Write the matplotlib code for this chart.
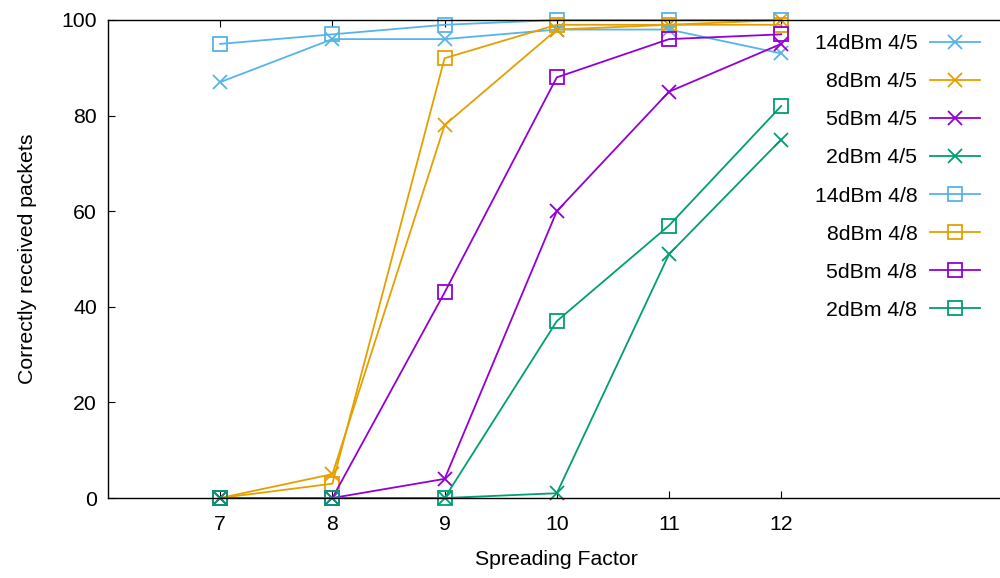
import matplotlib
matplotlib.use("Agg")
import matplotlib.pyplot as plt

plt.rcParams['font.family'] = ['Liberation Sans', 'DejaVu Sans']

spreading_factor = [7, 8, 9, 10, 11, 12]

series_labels = ["14dBm 4/5", "8dBm 4/5", "5dBm 4/5", "2dBm 4/5",
                 "14dBm 4/8", "8dBm 4/8", "5dBm 4/8", "2dBm 4/8"]

cr45_14dbm = [87, 96, 96, 98, 98, 93]
cr45_8dbm = [0, 5, 78, 98, 99, 100]
cr45_5dbm = [0, 0, 4, 60, 85, 95]
cr45_2dbm = [0, 0, 0, 1, 51, 75]
cr48_14dbm = [95, 97, 99, 100, 100, 100]
cr48_8dbm = [0, 3, 92, 99, 99, 99]
cr48_5dbm = [0, 0, 43, 88, 96, 97]
cr48_2dbm = [0, 0, 0, 37, 57, 82]

series_values = [cr45_14dbm, cr45_8dbm, cr45_5dbm, cr45_2dbm,
                 cr48_14dbm, cr48_8dbm, cr48_5dbm, cr48_2dbm]

colors = ["#56b4e9", "#e69f00", "#9400d3", "#009e73"] * 2
markers = ["x"] * 4 + ["s"] * 4

FS = 15.3

fig = plt.figure(figsize=(10, 5.78), dpi=100)
ax = fig.add_axes([0.108, 0.1384, 0.8976, 0.827])

for label, vals, c, m in zip(series_labels, series_values, colors, markers):
    ax.plot(spreading_factor, vals, color=c, marker=m, markersize=10.5 if m == "x" else 9.5,
            markeredgewidth=1.3, fillstyle="none", linewidth=1.3, label=label, clip_on=False)

ax.set_xlim(6, 14)
ax.set_ylim(0, 100)
ax.set_xticks(spreading_factor)
ax.set_yticks([0, 20, 40, 60, 80, 100])
ax.tick_params(axis="both", direction="in", length=5, width=0.8, labelsize=FS,
               top=True, right=False)
ax.tick_params(axis="x", pad=12.5)
ax.tick_params(axis="y", pad=8)
for s in ax.spines.values():
    s.set_linewidth(1.0)

ax.set_xlabel("Spreading Factor", fontsize=FS, labelpad=11.5)
ax.set_ylabel("Correctly received packets", fontsize=FS, labelpad=17.5)

ax.legend(loc="upper right", bbox_to_anchor=(0.98, 1 - 34 / 578),
          bbox_transform=fig.transFigure, frameon=False, markerfirst=False,
          fontsize=FS, handlelength=2.35, handletextpad=0.6,
          labelspacing=0.9, borderpad=0, borderaxespad=0)

fig.savefig("out.png", dpi=100)
